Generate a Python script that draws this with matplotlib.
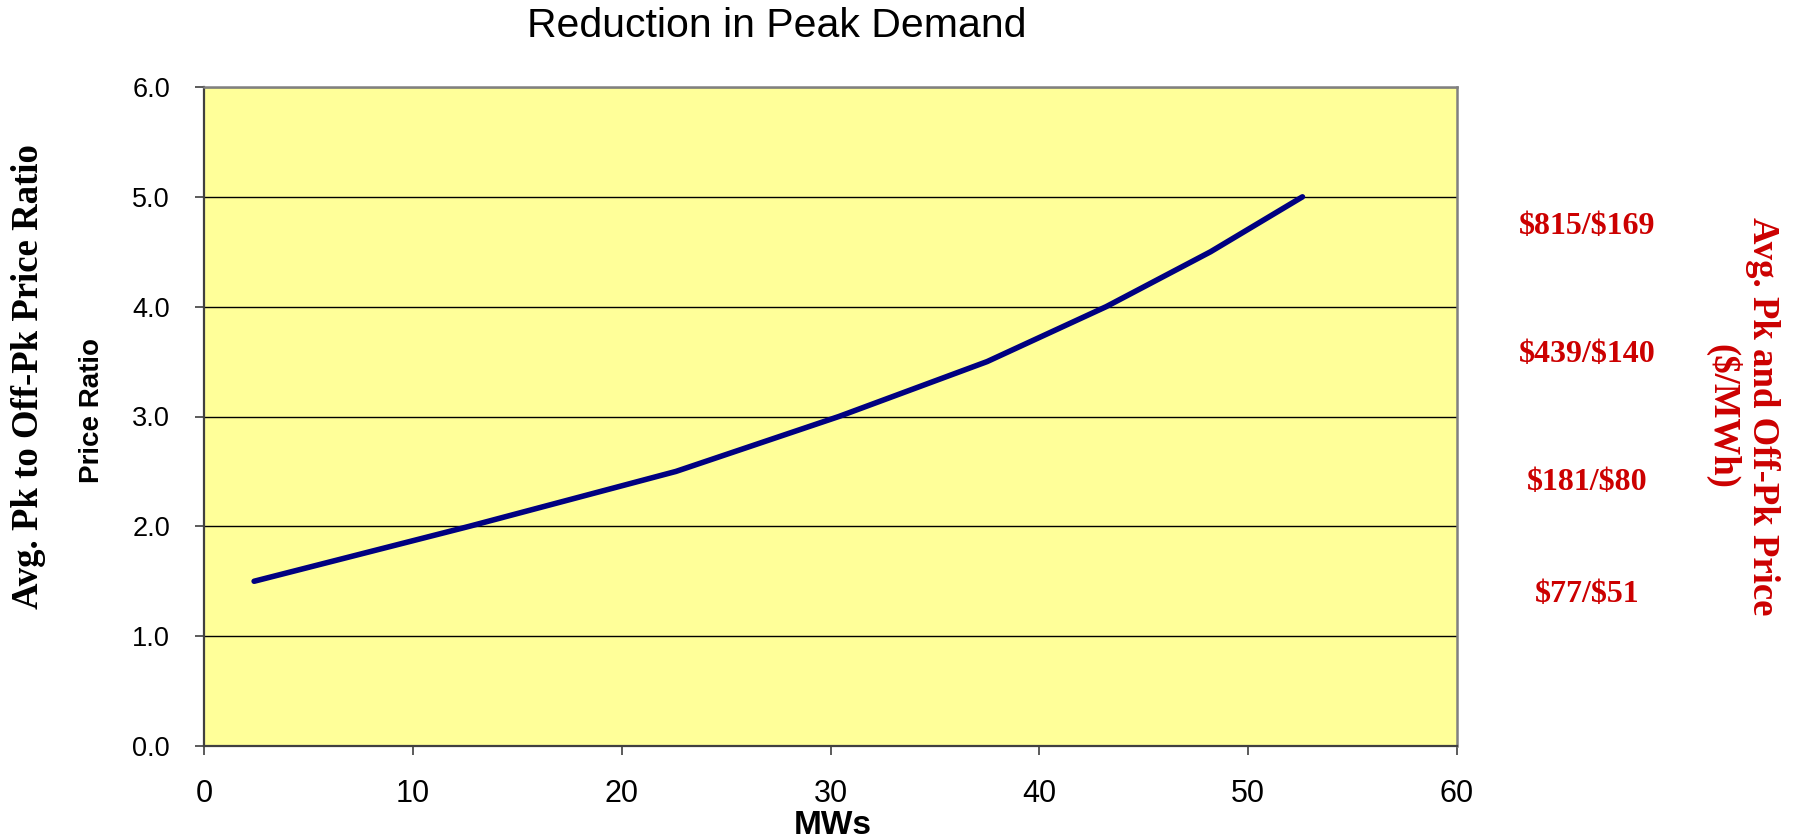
"""
Reduction in peak demand vs. peak / off-peak price ratio
"""

import matplotlib
matplotlib.use('Agg')
import matplotlib.pyplot as plt

# data
mws = [2.4, 12.7, 22.6, 30.4, 37.5, 43.2, 48.2, 52.6]
price_ratio = [1.5, 2.0, 2.5, 3.0, 3.5, 4.0, 4.5, 5.0]

x_ticks = [0, 10, 20, 30, 40, 50, 60]
y_ticks = [0.0, 1.0, 2.0, 3.0, 4.0, 5.0, 6.0]

price_labels = ['$815/$169', '$439/$140', '$181/$80', '$77/$51']

sans = 'Liberation Sans'
serif = 'Liberation Serif'
red = '#CC0000'

W, H = 1800, 839
fig = plt.figure(figsize=(W/100, H/100), dpi=100)

# plot area, pixel box -> figure fractions
left, right, top, bottom = 204, 1457, 87, 746
ax = fig.add_axes([left/W, 1-bottom/H, (right-left)/W, (bottom-top)/H])
ax.set_facecolor('#FFFF99')

ax.plot(mws, price_ratio, color='#000080', linewidth=4, solid_capstyle='round', zorder=3)

ax.set_xlim(0, 60)
ax.set_ylim(0, 6)
ax.set_xticks(x_ticks)
ax.set_yticks(y_ticks)
ax.set_yticklabels(['%.1f' % v for v in y_ticks])
ax.grid(visible=True, axis='y', color='black', linewidth=1)
ax.set_axisbelow(True)

for lab in ax.get_xticklabels():
    lab.set_fontfamily(sans)
    lab.set_fontsize(22)
for lab in ax.get_yticklabels():
    lab.set_fontfamily(sans)
    lab.set_fontsize(19.5)
ax.tick_params(axis='x', direction='out', length=6.5, width=1.2, color='#404040', pad=17)
ax.tick_params(axis='y', direction='out', length=6.5, width=1.2, color='#404040', pad=18)

# Excel-style frame
ax.spines['left'].set_color('#404040')
ax.spines['left'].set_linewidth(1.6)
ax.spines['bottom'].set_color('#404040')
ax.spines['bottom'].set_linewidth(1.6)
for side in ['top', 'right']:
    ax.spines[side].set_color('#808080')
    ax.spines[side].set_linewidth(1.8)

# titles and axis labels
fig.text(777/W, 1-26/H, 'Reduction in Peak Demand', fontsize=29.5, family=sans,
         ha='center', va='center')
fig.text(833/W, 1-825/H, 'MWs', fontsize=24, family=sans, fontweight='bold',
         ha='center', va='center')
fig.text(92/W, 1-411/H, 'Price Ratio', fontsize=20, family=sans, fontweight='bold',
         rotation=90, ha='center', va='center')
fig.text(29/W, 1-377/H, 'Avg. Pk to Off-Pk Price Ratio', fontsize=26.5, family=serif,
         fontweight='bold', rotation=90, ha='center', va='center')

# right hand price annotations
label_y = [227, 354, 482, 594]
for txt, yy in zip(price_labels, label_y):
    fig.text(1587/W, 1-yy/H, txt, fontsize=23, family=serif, fontweight='bold',
             color=red, ha='center', va='center', parse_math=False)
fig.text(1742/W, 1-416/H, 'Avg. Pk and Off-Pk Price\n($/MWh)', fontsize=26.5, family=serif,
         fontweight='bold', color=red, rotation=-90, ha='center', va='center',
         multialignment='center', linespacing=1.15, parse_math=False)

fig.savefig('out.png', dpi=100)
